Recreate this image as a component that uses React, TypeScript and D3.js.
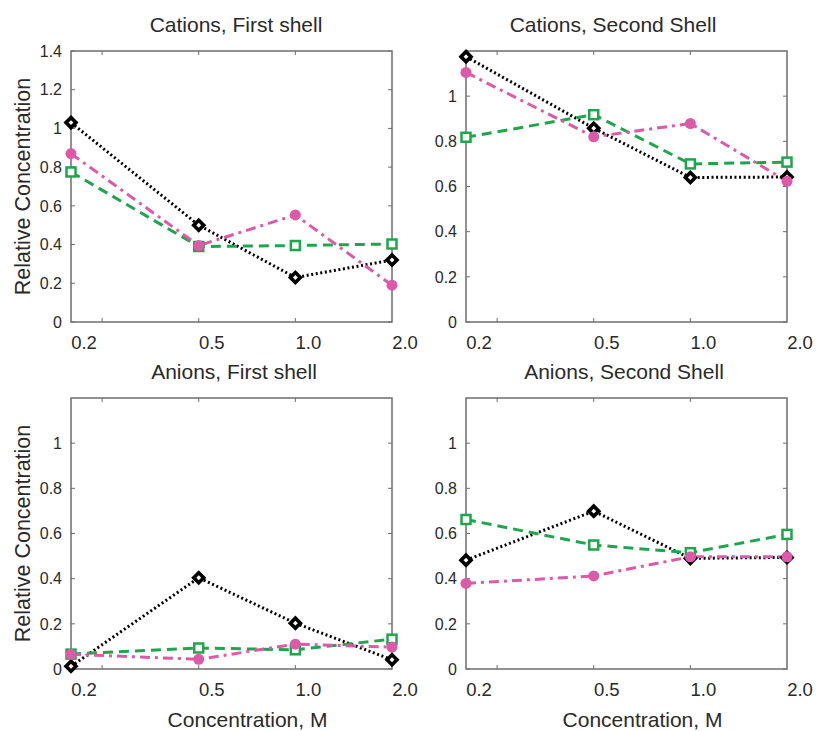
import React from 'react';
import * as d3 from 'd3';

// concentrations (M), shared x values of every panel
const concentrations = [0.2, 0.5, 1.0, 2.0];
const xTickLabels = ['0.2', '0.5', '1.0', '2.0'];
const xTickMarks = [0.25, 0.5, 1.0];

// black diamonds, dotted
const cationsFirstBlack = [1.03, 0.5, 0.23, 0.32];
const cationsSecondBlack = [1.175, 0.858, 0.64, 0.642];
const anionsFirstBlack = [0.012, 0.404, 0.203, 0.041];
const anionsSecondBlack = [0.482, 0.699, 0.49, 0.494];

// pink circles, dash-dot
const cationsFirstPink = [0.87, 0.395, 0.553, 0.19];
const cationsSecondPink = [1.105, 0.82, 0.879, 0.623];
const anionsFirstPink = [0.065, 0.043, 0.11, 0.097];
const anionsSecondPink = [0.379, 0.412, 0.497, 0.497];

// green squares, dashed
const cationsFirstGreen = [0.775, 0.39, 0.395, 0.403];
const cationsSecondGreen = [0.818, 0.918, 0.7, 0.708];
const anionsFirstGreen = [0.066, 0.093, 0.085, 0.132];
const anionsSecondGreen = [0.662, 0.549, 0.515, 0.596];

const yTicksTall = [0, 0.2, 0.4, 0.6, 0.8, 1, 1.2, 1.4];
const yTicksShort = [0, 0.2, 0.4, 0.6, 0.8, 1];

const FONT = 'Liberation Sans, Arial, sans-serif';
const FRAME = '#6e6e6e';
const TEXT = '#2a2a2a';
const BLACK = '#000000';
const PINK = '#dc5aa8';
const GREEN = '#1ea64c';

const panels = [
  { title: 'Cations, First shell', left: 71, top: 51, yMax: 1.4, yTicks: yTicksTall, yLabel: true, xLabel: false,
    black: cationsFirstBlack, pink: cationsFirstPink, green: cationsFirstGreen, titleX: 236 },
  { title: 'Cations, Second Shell', left: 466, top: 51, yMax: 1.2, yTicks: yTicksShort, yLabel: false, xLabel: false,
    black: cationsSecondBlack, pink: cationsSecondPink, green: cationsSecondGreen, titleX: 613 },
  { title: 'Anions, First shell', left: 71, top: 398, yMax: 1.2, yTicks: yTicksShort, yLabel: true, xLabel: true,
    black: anionsFirstBlack, pink: anionsFirstPink, green: anionsFirstGreen, titleX: 234 },
  { title: 'Anions, Second Shell', left: 466, top: 398, yMax: 1.2, yTicks: yTicksShort, yLabel: false, xLabel: true,
    black: anionsSecondBlack, pink: anionsSecondPink, green: anionsSecondGreen, titleX: 624 },
];

const W = 321;
const H = 271;

function Panel({ p }) {
  const x = d3.scaleLog().domain([0.2, 2.0]).range([p.left, p.left + W]);
  const y = d3.scaleLinear().domain([0, p.yMax]).range([p.top + H, p.top]);
  const bottom = p.top + H;
  const right = p.left + W;

  const line = d3.line()
    .x((d, i) => x(concentrations[i]))
    .y(d => y(d));

  // square turned 45deg, thick outline leaves a small white centre
  const diamond = d3.symbol().type(d3.symbolSquare).size(50)();

  return (
    <g>
      <text x={p.titleX} y={p.top - 19} textAnchor="middle" fontFamily={FONT} fontSize={21} fill={TEXT}>
        {p.title}
      </text>

      {/* frame */}
      <rect x={p.left} y={p.top} width={W} height={H} fill="none" stroke={FRAME} strokeWidth={1.5} />

      {/* inward ticks */}
      {p.yTicks.map(t => (
        <g key={'y' + t}>
          <line x1={p.left} x2={p.left + 4} y1={y(t)} y2={y(t)} stroke={FRAME} strokeWidth={1} />
          <line x1={right} x2={right - 4} y1={y(t)} y2={y(t)} stroke={FRAME} strokeWidth={1} />
          <text x={p.left - 9} y={y(t)} dy="0.36em" textAnchor="end" fontFamily={FONT} fontSize={16} fill={TEXT}>
            {d3.format('~g')(t)}
          </text>
        </g>
      ))}
      {xTickMarks.map(t => (
        <g key={'x' + t}>
          <line x1={x(t)} x2={x(t)} y1={bottom} y2={bottom - 4} stroke={FRAME} strokeWidth={1} />
          <line x1={x(t)} x2={x(t)} y1={p.top} y2={p.top + 4} stroke={FRAME} strokeWidth={1} />
        </g>
      ))}
      {concentrations.map((c, i) => (
        <text key={'xl' + c} x={x(c) + 13} y={bottom + 27} textAnchor="middle" fontFamily={FONT} fontSize={18.5} fill={TEXT}>
          {xTickLabels[i]}
        </text>
      ))}

      {p.yLabel && (
        <text transform={`translate(30,${p.top + H / 2}) rotate(-90)`} textAnchor="middle" fontFamily={FONT} fontSize={21.5} fill={TEXT}>
          Relative Concentration
        </text>
      )}
      {p.xLabel && (
        <text x={p.left + W / 2 + 16} y={bottom + 58} textAnchor="middle" fontFamily={FONT} fontSize={21} fill={TEXT}>
          Concentration, M
        </text>
      )}

      {/* series */}
      <path d={line(p.black)} fill="none" stroke={BLACK} strokeWidth={3} strokeDasharray="2,2.6" />
      <path d={line(p.green)} fill="none" stroke={GREEN} strokeWidth={3} strokeDasharray="10,6" />
      <path d={line(p.pink)} fill="none" stroke={PINK} strokeWidth={3} strokeDasharray="10,5,3,5" />

      {p.black.map((v, i) => (
        <path key={'b' + i} d={diamond} transform={`translate(${x(concentrations[i])},${y(v)}) rotate(45)`}
          fill="#ffffff" stroke={BLACK} strokeWidth={3.6} />
      ))}
      {p.green.map((v, i) => (
        <rect key={'g' + i} x={x(concentrations[i]) - 4.5} y={y(v) - 4.5} width={9} height={9}
          fill="#ffffff" stroke={GREEN} strokeWidth={2.5} />
      ))}
      {p.pink.map((v, i) => (
        <circle key={'p' + i} cx={x(concentrations[i])} cy={y(v)} r={5.5} fill={PINK} />
      ))}
    </g>
  );
}

export default function App() {
  return (
    <svg width={816} height={731} style={{ position: 'absolute', left: 0, top: 0, background: '#ffffff' }}>
      {panels.map(p => <Panel key={p.title} p={p} />)}
    </svg>
  );
}
